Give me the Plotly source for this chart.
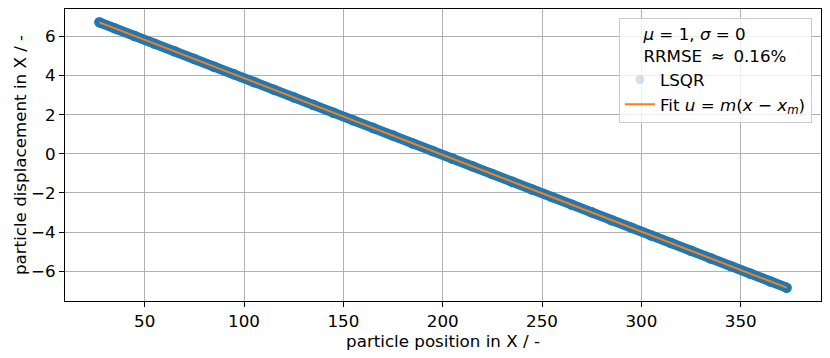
import plotly.graph_objects as go

# particle positions (x) and LSQR displacements (u)
particle_x = [27.2, 35, 45, 55, 65, 75, 85, 95, 105, 115, 125, 135, 145, 155, 165, 175,
              185, 195, 205, 215, 225, 235, 245, 255, 265, 275, 285, 295, 305, 315,
              325, 335, 345, 355, 365, 373.1]
particle_u = [6.72, 6.41, 6.02, 5.63, 5.24, 4.85, 4.45, 4.06, 3.67, 3.28, 2.89, 2.49,
              2.10, 1.71, 1.32, 0.93, 0.53, 0.14, -0.25, -0.64, -1.03, -1.43, -1.82,
              -2.21, -2.60, -2.99, -3.39, -3.78, -4.17, -4.56, -4.95, -5.35, -5.74,
              -6.13, -6.52, -6.84]

fit_x = [27.2, 373.1]
fit_u = [6.72, -6.84]

x_ticks = [50, 100, 150, 200, 250, 300, 350]
y_ticks = [-6, -4, -2, 0, 2, 4, 6]

BLUE = "#1f77b4"
ORANGE = "#ff7f0e"
FONT = "DejaVu Sans"
FS = 16.7

fig = go.Figure()

# legend entry for the (semi-transparent) particle markers
fig.add_trace(go.Scatter(
    x=particle_x, y=particle_u, mode="markers", name="LSQR",
    marker=dict(color=BLUE, size=9, opacity=0.12, line=dict(width=0)),
    showlegend=True,
))
# dense overlapping particle band
fig.add_trace(go.Scatter(
    x=particle_x, y=particle_u, mode="lines+markers", name="LSQR band",
    line=dict(color=BLUE, width=10),
    marker=dict(color=BLUE, size=10.5, line=dict(width=0)),
    showlegend=False, hoverinfo="skip",
))
fig.add_trace(go.Scatter(
    x=fit_x, y=fit_u, mode="lines",
    name="Fit <i>u</i> = <i>m</i>(<i>x</i> − <i>x</i><sub><i>m</i></sub>)",
    line=dict(color=ORANGE, width=2),
))

axis_common = dict(
    showline=True, linecolor="black", linewidth=1, mirror=True,
    ticks="outside", ticklen=5, tickwidth=1, tickcolor="black",
    showgrid=True, gridcolor="#b0b0b0", gridwidth=1,
    zeroline=False, automargin=False,
    tickfont=dict(family=FONT, size=FS, color="black"),
)

fig.update_layout(
    width=830, height=358,
    margin=dict(l=65, r=9, t=9, b=57),
    paper_bgcolor="white", plot_bgcolor="white",
    font=dict(family=FONT, size=FS, color="black"),
    xaxis=dict(
        range=[9.9, 390.4], tickvals=x_ticks,
        title=dict(text="particle position in X / -", font=dict(family=FONT, size=FS), standoff=4),
        **axis_common,
    ),
    yaxis=dict(
        range=[-7.52, 7.40], tickvals=y_ticks,
        title=dict(text="particle displacement in X / -", font=dict(family=FONT, size=FS), standoff=0),
        **axis_common,
    ),
    legend=dict(
        title=dict(text="<i>μ</i> = 1, <i>σ</i> = 0<br>RRMSE \u2009≈\u2009 0.16%", side="top center",
                   font=dict(family=FONT, size=FS)),
        x=0.988, y=0.97, xanchor="right", yanchor="top",
        bgcolor="rgba(255,255,255,0.8)", bordercolor="#cccccc", borderwidth=1,
        font=dict(family=FONT, size=FS),
        tracegroupgap=0,
    ),
    showlegend=True,
)

fig.write_html("out.html", config={"displayModeBar": False},
               post_script="document.body.style.margin='0';document.body.style.overflow='hidden';")
